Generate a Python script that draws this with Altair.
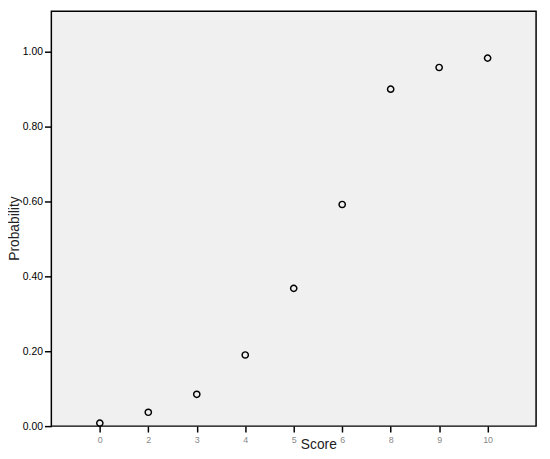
import altair as alt
import pandas as pd

scores = ["0", "2", "3", "4", "5", "6", "8", "9", "10"]
probs = [0.008, 0.037, 0.085, 0.19, 0.368, 0.592, 0.90, 0.958, 0.983]

df = pd.DataFrame({"Score": scores, "Probability": probs})

chart = alt.Chart(df).mark_point(
    shape="circle", filled=False, color="black", size=40, strokeWidth=1.5, opacity=1
).encode(
    x=alt.X("Score:N", sort=scores,
            scale=alt.Scale(type="point", padding=1),
            axis=alt.Axis(labelAngle=0, labelColor="#888888", labelFontSize=9,
                          labelFont="Arial", tickColor="black", tickSize=6, tickWidth=1.5,
                          domain=False, labelPadding=4,
                          title="Score", titleFontSize=14, titleFont="Arial",
                          titleFontWeight="normal", titleX=271, titleY=19,
                          titleBaseline="middle", titleColor="#222222")),
    y=alt.Y("Probability:Q",
            scale=alt.Scale(domain=[0, 1.108], nice=False, zero=True),
            axis=alt.Axis(values=[0, 0.2, 0.4, 0.6, 0.8, 1.0], format=".2f",
                          labelFontSize=10.5, labelFont="Arial", labelColor="black",
                          tickColor="black", tickSize=7, tickWidth=1.5, domain=False,
                          grid=False, labelPadding=2,
                          title="Probability", titleFontSize=14, titleFont="Arial",
                          titleFontWeight="normal", titleX=-37, titleY=220,
                          titleBaseline="middle", titleColor="#222222"))
).properties(
    width=492, height=421,
    autosize=alt.AutoSizeParams(type="none"),
    padding={"left": 44, "top": 0, "right": 6, "bottom": 30}
).configure_view(
    fill="#f0f0f0", stroke="black", strokeWidth=1.5
).configure_axis(grid=False)

chart.save("out.html", embed_options={"renderer": "svg", "actions": False})
